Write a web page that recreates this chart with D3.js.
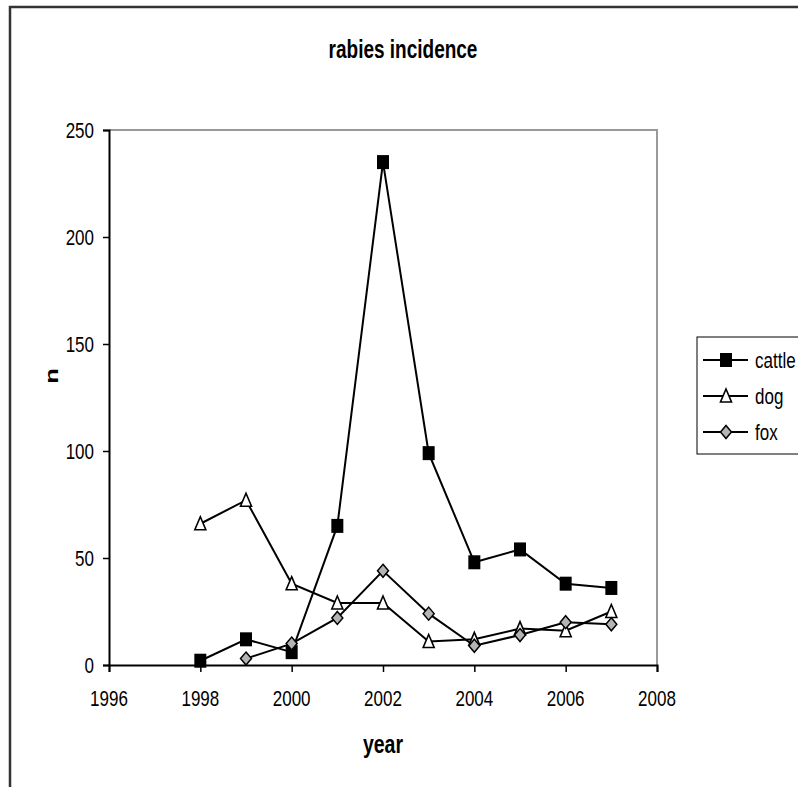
<!DOCTYPE html>
<html><head><meta charset="utf-8">
<script src="https://cdn.jsdelivr.net/npm/d3@7"></script>
<style>body{margin:0;background:#fff}svg{display:block}text{font-family:"Liberation Sans",Arial,sans-serif;fill:#000}</style>
</head><body>
<script>
const years = [1998,1999,2000,2001,2002,2003,2004,2005,2006,2007];
const cattle = [2,12,6,65,235,99,48,54,38,36];
const dog = [66,77,38,29,29,11,12,17,16,25];
const fox = [null,3,10,22,44,24,9,14,20,19];
const seriesNames = ["cattle","dog","fox"];
const xTicks = [1996,1998,2000,2002,2004,2006,2008];
const yTicks = [0,50,100,150,200,250];
const title = "rabies incidence", xTitle = "year", yTitle = "n";

const W = 798, H = 787, SY = 1.35;
const svg = d3.select("body").append("svg").attr("width",W).attr("height",H);
const L = 109, R = 657, T = 130, B = 665;
const x = d3.scaleLinear().domain([1996,2008]).range([L,R]);
const y = d3.scaleLinear().domain([0,250]).range([B,T]);

// outer border
svg.append("rect").attr("x",10).attr("y",7).attr("width",800).attr("height",800)
  .attr("fill","none").attr("stroke","#333").attr("stroke-width",2.5);

// plot frame top/right gray
svg.append("path").attr("d",`M${L},${T}H${R}V${B}`).attr("fill","none")
  .attr("stroke","#999").attr("stroke-width",2);

function stext(g, tx, ty, str, opts={}) {
  return g.append("text")
    .attr("transform",`translate(${tx},${ty}) scale(1,${SY})${opts.rot?` rotate(${opts.rot})`:""}`)
    .attr("font-size",opts.size||17).attr("text-anchor",opts.anchor||"middle")
    .attr("font-weight",opts.bold?"bold":"normal").text(str);
}

// axes
const xAxis = svg.append("g").attr("transform",`translate(0,${B})`)
  .call(d3.axisBottom(x).tickValues(xTicks).tickSize(7).tickFormat(""));
const yAxis = svg.append("g").attr("transform",`translate(${L},0)`)
  .call(d3.axisLeft(y).tickValues(yTicks).tickSize(6).tickFormat(""));
[xAxis,yAxis].forEach(a=>{
  a.select(".domain").attr("stroke","#000").attr("stroke-width",2);
  a.selectAll(".tick line").attr("stroke","#000").attr("stroke-width",1.5);
});
xTicks.forEach(v=>stext(svg, x(v), B+41, String(v)));
yTicks.forEach(v=>stext(svg, L-15, y(v)+8, String(v), {anchor:"end"}));

stext(svg, 403, 58, title, {size:19, bold:true});
stext(svg, 383, 753, xTitle, {size:19.5, bold:true});
stext(svg, 58, 376, yTitle, {size:19, bold:true, rot:-90});

// markers
function marker(g, kind, cx, cy) {
  if (kind==="cattle") {
    g.append("rect").attr("x",cx-6).attr("y",cy-7).attr("width",12).attr("height",14).attr("fill","#000");
  } else if (kind==="dog") {
    g.append("path").attr("d",`M${cx},${cy-7}L${cx+5.5},${cy+6}L${cx-5.5},${cy+6}Z`)
      .attr("fill","#fff").attr("stroke","#000").attr("stroke-width",1.6);
  } else {
    g.append("path").attr("d",`M${cx},${cy-6.5}L${cx+5.5},${cy}L${cx},${cy+6.5}L${cx-5.5},${cy}Z`)
      .attr("fill","#b4b4b4").attr("stroke","#000").attr("stroke-width",1.5);
  }
}

const data = {cattle, dog, fox};
const line = d3.line().defined(d=>d[1]!=null).x(d=>x(d[0])).y(d=>y(d[1]));
seriesNames.forEach(name=>{
  const pts = years.map((yr,i)=>[yr,data[name][i]]);
  svg.append("path").attr("d",line(pts)).attr("fill","none").attr("stroke","#000").attr("stroke-width",2);
});
seriesNames.forEach(name=>{
  const g = svg.append("g");
  years.forEach((yr,i)=>{ const v=data[name][i]; if(v!=null) marker(g,name,x(yr),y(v)); });
});

// legend
const lg = svg.append("g");
lg.append("rect").attr("x",697).attr("y",337).attr("width",120).attr("height",117)
  .attr("fill","#fff").attr("stroke","#000").attr("stroke-width",1);
seriesNames.forEach((name,i)=>{
  const cy = 360 + i*36;
  lg.append("line").attr("x1",703).attr("x2",748).attr("y1",cy).attr("y2",cy).attr("stroke","#000").attr("stroke-width",2);
  marker(lg,name,726,cy);
  stext(lg, 755, cy+8, name, {anchor:"start"});
});
</script>
</body></html>
